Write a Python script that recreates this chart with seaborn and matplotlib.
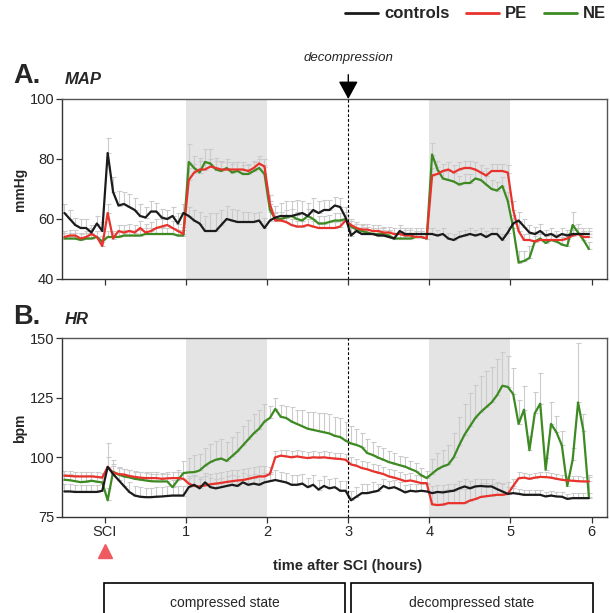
import numpy as np
import pandas as pd
import matplotlib
matplotlib.use("Agg")
import matplotlib.pyplot as plt
import seaborn as sns
from matplotlib.lines import Line2D
from matplotlib.patches import Rectangle

# sampling grid: one point every 4 min, from 30 min before SCI to ~6 h after
minutes = np.arange(-30, 360, 4)
hours = minutes / 60.0

# ---- MAP (mmHg) ----
map_controls = [62, 60, 58, 57, 57, 55.5, 58.5, 56,
                82,
                69, 64.5, 65, 64, 63, 61, 60.5, 62.5, 62.5, 60.5, 60, 61, 58.5, 62,
                61, 59.5, 58.5, 56, 56, 56, 58, 60, 59.5, 59, 59, 59, 59, 59.5, 57,
                59.5, 60.5, 61, 61, 61, 61.5, 62, 61, 63, 62, 63, 63, 64.5, 64, 60.5,
                54.5, 56, 55, 55, 55, 54.5, 54.5, 54, 53.5, 56, 55, 55, 55, 55, 55,
                55, 54.5, 55, 53.5, 53, 54, 54.5, 55, 54.5, 55, 54, 55, 55, 53, 55.5,
                58.5, 59.5, 57.5, 55.5, 55, 56, 54.5, 55, 54, 55, 54.5, 55, 55, 55, 55]
map_pe = [54, 54.5, 54.5, 53.5, 54, 55, 54, 51,
          62,
          53.5, 56, 55.5, 56, 55.5, 57, 55.5, 56, 57, 57.5, 58, 57, 56, 55,
          73, 75.5, 76.5, 76.5, 77.5, 77, 76.5, 76.5, 76.5, 76.5, 76.5, 76, 77, 78.5, 77.5,
          65, 59.5, 59.5, 59, 58, 57.5, 57.5, 58, 57.5, 57, 57, 57, 57, 57.5, 59.5,
          58, 57, 56.5, 56.5, 56, 56, 55.5, 55.5, 55, 55, 54.5, 54.5, 54, 54, 53.5,
          74.5, 75, 76, 76.5, 75.5, 76.5, 77, 77, 76.5, 75.5, 74.5, 76, 76, 76, 75.5,
          63, 56, 53, 53, 52.5, 53, 53, 53, 53, 53, 53.5, 54.5, 55, 54, 54]
map_ne = [53.5, 53.5, 53.5, 53, 53.5, 53.5, 54, 52.5,
          54,
          54, 54, 54.5, 54.5, 54.5, 54.5, 55, 55, 55, 55, 55, 55, 54.5, 54.5,
          79, 77, 75.5, 79, 78.5, 76.5, 76, 77, 75.5, 76, 75, 75, 76, 77, 75,
          63, 60, 60, 60.5, 61, 60, 59.5, 61, 60, 58.5, 58.5, 59, 59.5, 59.5, 60,
          57.5, 56.5, 56, 55.5, 55, 55, 55, 54.5, 53.5, 53.5, 53.5, 53.5, 54, 54, 53.5,
          81.5, 76.5, 73.5, 73, 72.5, 71.5, 72, 72, 73.5, 73, 71.5, 70, 69.5, 71, 66,
          57, 45.5, 46, 47, 52.5, 53.5, 52, 53, 52.5, 51.5, 51, 58, 55.5, 53, 50]

map_controls_err = [3, 3, 2.5, 3, 3, 2.5, 2.5, 3,
                    5,
                    5, 5, 4, 4.5, 4, 4, 3.5, 3.5, 3, 3, 3, 3, 3.5, 3,
                    3, 3.5, 4, 5, 6, 6, 5, 4.5, 4, 4, 3.5, 3.5, 3, 3, 3.5,
                    3, 4, 4.5, 5, 5, 5, 4, 4.5, 4, 4, 3.5, 3.5, 3, 3, 3.5,
                    2.5, 2.5, 2.5, 2.5, 2, 2, 2, 2, 2, 2, 2, 2, 2, 2, 2,
                    2, 2, 2, 2, 2, 2, 2, 2, 2, 2, 2, 2, 2, 2, 2,
                    3, 3, 2.5, 2.5, 2.5, 2.5, 2, 2, 2, 2, 2, 2, 2, 2, 2]
map_pe_err = [2, 2, 2, 2, 2, 2, 2, 2,
              3,
              2, 2, 2.5, 2.5, 2.5, 2.5, 3, 3, 3, 2.5, 2.5, 2.5, 2.5, 2.5,
              4, 3, 3, 2.5, 2.5, 2.5, 2.5, 2.5, 2.5, 2.5, 2.5, 2.5, 2.5, 2.5, 2.5,
              3, 2.5, 2, 2, 2, 2, 2, 2, 2, 2, 2, 2, 2, 2, 2,
              2, 2, 2, 2, 2, 2, 2, 2, 2, 2, 2, 2, 2, 2, 2,
              2.5, 2.5, 2.5, 2.5, 2.5, 2.5, 2.5, 2.5, 2.5, 2.5, 2.5, 2.5, 2.5, 2.5, 2.5,
              3, 3, 2, 2, 2, 2, 2, 2, 2, 2, 2, 2, 2, 2, 2]
map_ne_err = [2, 2, 2, 2, 2, 2, 2, 2,
              2,
              2, 2, 2, 2, 2, 2, 2, 2, 2, 2, 2, 2, 2, 2,
              6, 4, 5, 4.5, 5, 4, 3.5, 3, 3, 3, 3, 3, 3, 3, 3,
              3, 2.5, 2.5, 2.5, 2.5, 2.5, 2.5, 2.5, 2.5, 2.5, 2.5, 2.5, 2.5, 2.5, 2.5,
              2, 2, 2, 2, 2, 2, 2, 2, 2, 2, 2, 2, 2, 2, 2,
              4, 3, 3, 3, 3, 3, 3, 3, 3, 3, 3, 3, 3, 3, 3,
              3, 4, 3.5, 4, 3, 2.5, 2.5, 2.5, 2.5, 2.5, 2.5, 4.5, 3, 3, 2.5]

# ---- HR (bpm) ----
hr_controls = [85.7, 85.7, 85.5, 85.5, 85.5, 85.5, 85.5, 86,
               96,
               93, 90.5, 88, 85.5, 84, 83.5, 83.3, 83.3, 83.5, 83.6, 83.8, 84, 84, 84,
               87.5, 88.5, 87, 89.5, 87.5, 87, 87.5, 88, 88.5, 88, 89.5, 88.5, 89, 88.5, 89.5,
               90, 90.5, 90, 89.5, 88.5, 88.5, 89, 87.5, 88.5, 86.5, 88, 87, 87.5, 86, 86,
               82, 83.5, 85, 85, 85.5, 86, 88, 87, 87.5, 86.5, 85.3, 86, 85.7, 86, 85.7,
               85, 85.5, 85.3, 85.7, 86, 87, 87.8, 87, 87.8, 88, 87.8, 87.8, 86.7, 85.7, 84.7,
               85, 84.7, 84.3, 84.3, 84.3, 84.3, 83.6, 84, 83.6, 83.5, 82.6, 82.9, 82.9, 82.9, 82.9]
hr_pe = [92.3, 92.2, 92, 92, 92, 92, 91.8, 91.5,
         96,
         93.5, 93, 92.8, 92.2, 91.8, 91.5, 91.3, 91.3, 91.3, 91, 91.2, 91.3, 91.3, 91,
         89, 88, 87.8, 88.2, 88.7, 89, 89.3, 89.7, 90, 90.3, 90.5, 91, 91.5, 92, 92,
         93, 100, 100.7, 100.4, 100, 100.4, 100, 99.7, 100, 99.9, 100, 99.7, 99.5, 99.3, 99,
         97, 96.5, 95.5, 95, 94.2, 93.6, 93, 92, 91.5, 90.8, 90, 90.3, 89.8, 89.2, 89.2,
         80.3, 80, 80.2, 80.8, 80.8, 80.8, 80.8, 81.9, 82.5, 83.4, 83.7, 84, 84.3, 84.3, 84.7,
         88, 91.2, 91.5, 91, 91.5, 91.8, 91.7, 91.5, 91, 90.6, 90.3, 90.2, 90, 89.9, 89.9]
hr_ne = [90.6, 90.4, 90, 89.6, 89.8, 90.2, 89.8, 89.5,
         82,
         94, 92.8, 92, 91.6, 91, 90.7, 90.3, 90, 89.9, 89.9, 89.9, 87.5, 90.5, 93.4,
         93.7, 93.8, 94.5, 96.5, 98, 99, 99.5, 98.5, 100.5, 102.5, 105, 107.5, 110, 112, 115,
         116.5, 120.3, 117, 116.5, 115, 114, 113, 112, 111.5, 111, 110.5, 110, 109, 108.5, 107,
         105.8, 105.2, 104.3, 101.8, 101, 99.9, 99, 98, 97.4, 96.7, 96.1, 95.1, 94.2, 92.5, 91.3,
         93.2, 95, 96.2, 97, 100, 105, 109.5, 113, 116.5, 119, 121, 123, 126, 130, 129.5,
         126.5, 114, 120, 103, 118.5, 122.5, 94.8, 114, 110.5, 105, 88, 99, 123, 111, 83.5]

hr_controls_err = [3, 3, 3, 3, 3, 3, 3, 3,
                   10,
                   6, 5, 4, 4, 4, 4, 4, 4, 4, 4, 4, 4, 4, 4,
                   4, 4, 4, 4, 4, 4, 4, 4, 4, 4, 4, 4, 4, 4, 4,
                   4, 4, 4, 4, 4, 4, 4, 4, 4, 4, 4, 4, 4, 4, 4,
                   4, 4, 4, 4, 4, 3, 3, 3, 3, 3, 3, 3, 3, 3, 3,
                   3, 3, 3, 3, 3, 3, 3, 3, 3, 3, 3, 3, 3, 3, 3,
                   2, 2, 2, 2, 2, 2, 2, 2, 2, 2, 2, 2, 2, 2, 2]
hr_pe_err = [2, 2, 2, 2, 2, 2, 2, 2,
             4,
             3, 2.5, 2.5, 2.5, 2.5, 2.5, 2.5, 2.5, 2.5, 2.5, 2.5, 2.5, 2.5, 2.5,
             3, 4, 4, 4, 4.5, 4.5, 4.5, 4.5, 4.5, 4.5, 4.5, 4.5, 4.5, 4.5, 4.5,
             3, 2.5, 2.5, 2.5, 2.5, 2.5, 2.5, 2.5, 2.5, 2.5, 2.5, 2.5, 2.5, 2.5, 2.5,
             3, 3, 3, 3, 3, 3, 3, 3, 3, 3, 3, 3, 3, 3, 3,
             5, 6, 6, 6, 6, 6, 6, 6, 6, 6, 5.5, 5, 5, 5, 5,
             3, 2.5, 2, 2, 2, 2, 2, 2, 2, 2, 2, 2, 2, 2, 2]
hr_ne_err = [2.5, 2.5, 2.5, 2.5, 2.5, 2.5, 2.5, 2.5,
             5,
             3, 3, 3, 3, 3, 3, 3, 3, 3, 3, 3, 3, 4, 5,
             6, 7, 7, 7.5, 7.5, 8, 8, 8, 8, 8, 8, 8, 8, 8, 7.5,
             5, 4.5, 5, 5, 6, 6, 7, 7, 7.5, 7.5, 8, 8, 8, 8, 8,
             7.5, 6.5, 6, 6, 5.5, 5, 5, 4.5, 4.5, 4, 4, 3.5, 3.5, 3, 3,
             6, 7, 7, 8, 10, 12, 13, 14, 14, 15, 15, 15, 15, 14, 13,
             11, 10, 10, 6, 9, 13, 5, 9, 7, 6, 3, 5, 25, 7, 9]

groups = ["NE", "PE", "controls"]
colors = {"controls": "#1b1b1b", "PE": "#e8322b", "NE": "#3d8a22"}
tick_pos = [0, 1, 2, 3, 4, 5, 6]
tick_lbl = ["SCI", "1", "2", "3", "4", "5", "6"]

sns.set_style("white")
plt.rcParams["font.family"] = ["Liberation Sans", "DejaVu Sans"]

fig = plt.figure(figsize=(6.1, 6.13), dpi=100)
W, H = 610.0, 613.0
axA = fig.add_axes([62 / W, 1 - 279 / H, 545 / W, 180 / H])
axB = fig.add_axes([62 / W, 1 - 517 / H, 545 / W, 179 / H])


def draw_panel(ax, series, errs, ylim, yticks):
    for a, b in [(1, 2), (4, 5)]:
        ax.axvspan(a, b, color="#e4e4e4", lw=0, zorder=0)
    for g in groups:
        e = np.array(errs[g])
        ax.errorbar(hours, series[g], yerr=[np.zeros_like(e), e], fmt="none",
                    ecolor="#cbcbcb", elinewidth=0.8, capsize=1.8, capthick=0.8, zorder=1)
    df = pd.DataFrame({"hours": np.tile(hours, 3),
                       "value": np.concatenate([series[g] for g in groups]),
                       "group": np.repeat(groups, len(hours))})
    sns.lineplot(data=df, x="hours", y="value", hue="group", hue_order=groups,
                 palette=colors, linewidth=1.6, legend=False, errorbar=None,
                 ax=ax, zorder=3)
    ax.axvline(3, color="black", lw=0.8, ls=(0, (2.5, 1.8)), zorder=4)
    ax.set_xlim(-0.53, 6.19)
    ax.set_ylim(*ylim)
    ax.set_yticks(yticks)
    ax.set_xticks(tick_pos)
    ax.set_xlabel("")
    ax.set_ylabel("")
    for s in ax.spines.values():
        s.set_color("#555555")
        s.set_linewidth(1.0)
    ax.spines["left"].set_color("#333333")
    ax.spines["bottom"].set_color("#333333")
    ax.tick_params(axis="both", direction="out", length=4, width=0.9,
                   color="#333333", labelsize=10.5, pad=1.5, left=True, bottom=True)


draw_panel(axA, {"controls": map_controls, "PE": map_pe, "NE": map_ne},
           {"controls": map_controls_err, "PE": map_pe_err, "NE": map_ne_err},
           (40, 100), [40, 60, 80, 100])
draw_panel(axB, {"controls": hr_controls, "PE": hr_pe, "NE": hr_ne},
           {"controls": hr_controls_err, "PE": hr_pe_err, "NE": hr_ne_err},
           (75, 150), [75, 100, 125, 150])
axA.set_xticklabels([])
axB.set_xticklabels(tick_lbl)

# SCI marker under the axis
axB.plot([0], [-0.19], marker="^", color="#ef5a60", markersize=10,
         transform=axB.get_xaxis_transform(), clip_on=False)

# decompression arrow
axA.annotate("decompression", xy=(3, 100), xytext=(3, 113.5), ha="center", va="center",
             fontsize=9.5, style="italic", annotation_clip=False,
             arrowprops=dict(arrowstyle="-|>,head_length=0.55,head_width=0.3",
                             color="black", lw=1.0, mutation_scale=20,
                             shrinkA=5, shrinkB=0))

# panel titles and axis labels
fig.text(13 / W, 1 - 76 / H, "A.", fontsize=19.5, fontweight="bold", va="center")
fig.text(65 / W, 1 - 79 / H, "MAP", fontsize=12, fontweight="bold", style="italic", va="center")
fig.text(13 / W, 1 - 317 / H, "B.", fontsize=19.5, fontweight="bold", va="center")
fig.text(65 / W, 1 - 319 / H, "HR", fontsize=12, fontweight="bold", style="italic", va="center")
fig.text(20 / W, 1 - 189 / H, "mmHg", fontsize=10, fontweight="bold", rotation=90,
         ha="center", va="center")
fig.text(20 / W, 1 - 428 / H, "bpm", fontsize=10, fontweight="bold", rotation=90,
         ha="center", va="center")
fig.text(348 / W, 1 - 566 / H, "time after SCI (hours)", fontsize=10.5,
         fontweight="bold", ha="center", va="center")

# legend
handles = [Line2D([], [], color=colors[g], lw=2) for g in ["controls", "PE", "NE"]]
fig.legend(handles, ["controls", "PE", "NE"], loc="center right",
           bbox_to_anchor=(1.005, 1 - 14 / H), ncol=3, frameon=False,
           prop={"weight": "bold", "size": 12}, handlelength=2.0,
           handletextpad=0.35, columnspacing=1.0, borderaxespad=0)

# state boxes at the bottom
for x0, x1, label in [(104, 345, "compressed state"), (351, 593, "decompressed state")]:
    fig.add_artist(Rectangle((x0 / W, -0.02), (x1 - x0) / W, (613 - 583) / H + 0.02,
                             transform=fig.transFigure, fill=False, ec="black", lw=1.2))
    fig.text((x0 + x1) / 2 / W, 1 - 603 / H, label, fontsize=10, ha="center", va="center")

fig.savefig("out.png", dpi=100)
